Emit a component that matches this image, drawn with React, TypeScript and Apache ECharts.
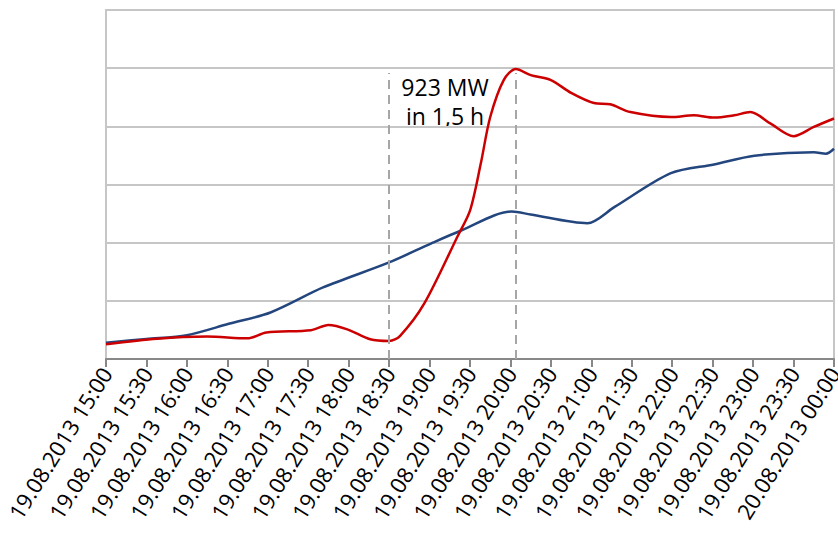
import React, { useEffect, useRef } from "react";
import * as echarts from "echarts";

// minutes after 19.08.2013 15:00
const blueMinutes = [0, 30, 60, 91, 122, 161, 210, 241, 263, 301, 315, 357, 377, 419, 451, 481, 525, 534, 540];
const blueValues = [56, 69, 82, 121, 160, 246, 332, 397, 441, 507, 497, 467, 522, 639, 669, 699, 711, 706, 723];

const redMinutes = [0, 38, 75, 105, 119, 152, 165, 179, 196, 210, 218, 236, 261, 270, 278, 285, 295, 304, 315, 330, 345, 362, 374, 389, 419, 436, 451, 466, 478, 493, 510, 525, 540];
const redValues = [51, 70, 77, 71, 91, 99, 117, 102, 68, 62, 79, 190, 424, 510, 672, 832, 959, 997, 976, 959, 915, 880, 876, 849, 832, 838, 830, 838, 849, 809, 766, 798, 827];

const markerMinutes = [210, 304];
const markerTop = 983;
const annotationLines = ["923 MW", "in 1,5 h"];

const startHour = 15;

function fmtTick(m: number): string {
  const total = startHour * 60 + m;
  const dayOffset = Math.floor(total / 1440);
  const mins = total % 1440;
  const hh = String(Math.floor(mins / 60)).padStart(2, "0");
  const mm = String(mins % 60).padStart(2, "0");
  const day = String(19 + dayOffset).padStart(2, "0");
  return `${day}.08.2013 ${hh}:${mm}`;
}

export default function App() {
  const ref = useRef<HTMLDivElement>(null);
  useEffect(() => {
    if (!ref.current) return;
    const chart = echarts.init(ref.current, null, { renderer: "svg" });
    const font = "'Open Sans', sans-serif";
    chart.setOption({
      animation: false,
      backgroundColor: "#ffffff",
      grid: {
        left: 106,
        right: 4,
        top: 10,
        bottom: 176,
        containLabel: false,
        outerBoundsMode: "none",
        show: true,
        borderColor: "#c6c6c6",
        borderWidth: 2,
      },
      xAxis: {
        type: "value",
        min: 0,
        max: 540,
        interval: 30,
        axisLine: { show: true, lineStyle: { color: "#888888", width: 2 } },
        axisTick: { show: true, length: 8, lineStyle: { color: "#888888", width: 2 } },
        splitLine: { show: false },
        axisLabel: {
          rotate: 58,
          margin: 10,
          color: "#000000",
          fontFamily: font,
          fontSize: 22,
          formatter: (v: number) => fmtTick(v),
        },
      },
      yAxis: {
        type: "value",
        min: 0,
        max: 1200,
        interval: 200,
        axisLine: { show: true, lineStyle: { color: "#c6c6c6", width: 2 } },
        axisTick: { show: false },
        axisLabel: { show: false },
        splitLine: { show: true, lineStyle: { color: "#c6c6c6", width: 2 } },
      },
      series: [
        {
          type: "line",
          data: blueMinutes.map((m, i) => [m, blueValues[i]]),
          smooth: 0.3,
          symbol: "none",
          lineStyle: { color: "#24467e", width: 2.5 },
          z: 3,
        },
        {
          type: "line",
          data: redMinutes.map((m, i) => [m, redValues[i]]),
          smooth: 0.3,
          symbol: "none",
          lineStyle: { color: "#cc0000", width: 2.5 },
          z: 4,
          markLine: {
            silent: true,
            symbol: "none",
            label: { show: false },
            lineStyle: { color: "#a6a6a6", width: 2, type: [9, 6] },
            data: markerMinutes.map((m) => [
              { coord: [m, 0] },
              { coord: [m, markerTop] },
            ]),
          },
        },
      ],
      graphic: [
        {
          type: "text",
          x: 445,
          y: 101,
          style: {
            text: annotationLines.join("\n"),
            fontFamily: font,
            fontSize: 23,
            lineHeight: 29,
            fill: "#000000",
            align: "center",
            verticalAlign: "middle",
          },
        },
      ],
    });
    return () => chart.dispose();
  }, []);
  return (
    <div
      ref={ref}
      style={{ position: "fixed", left: 0, top: 0, width: 838, height: 535 }}
    />
  );
}
